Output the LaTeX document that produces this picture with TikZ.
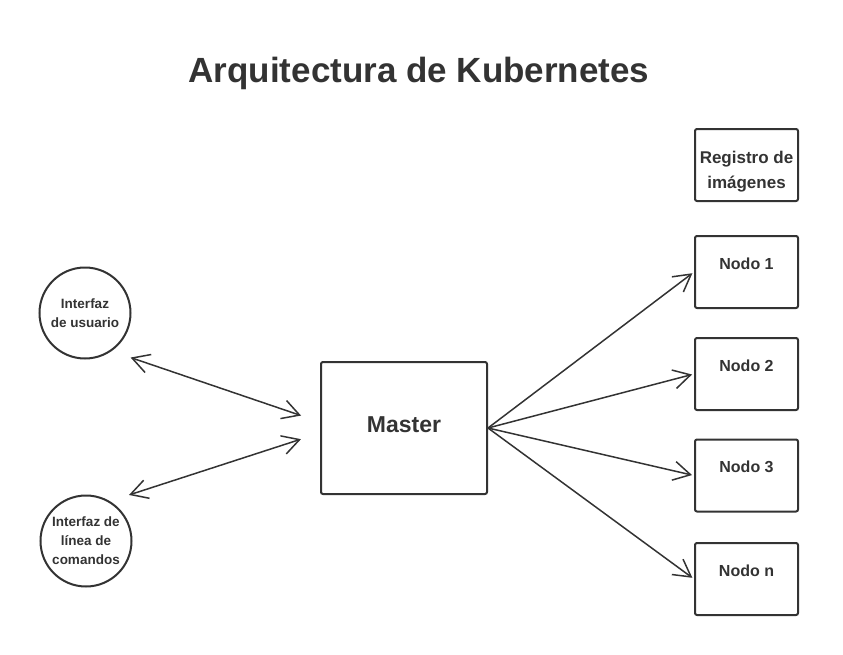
\documentclass[tikz,border=0pt]{standalone}
\usepackage{fontspec}
\setmainfont{Liberation Sans}
\usetikzlibrary{arrows.meta}
\definecolor{ink}{HTML}{333333}
\tikzset{
	box/.style={draw=ink, line width=2pt, rounded corners=2pt, inner sep=0pt,
		minimum width=103pt, minimum height=72pt, text=ink, align=center,
		font=\fontsize{16}{25}\selectfont\bfseries},
	workerbox/.style={box, text height=10pt, text depth=16pt},
	bubble/.style={draw=ink, line width=2pt, circle, inner sep=0pt,
		minimum size=91pt, text=ink, align=center,
		font=\fontsize{13.5}{19}\selectfont\bfseries},
	link/.style={draw=ink, line width=1.5pt,
		-{Straight Barb[length=17pt,width=19pt,line width=1.5pt]}},
	twoway/.style={link,
		{Straight Barb[length=17pt,width=19pt,line width=1.5pt]}-{Straight Barb[length=17pt,width=19pt,line width=1.5pt]},
		shorten <=20pt, shorten >=20pt}
}
\begin{document}
\begin{tikzpicture}[x=1pt,y=-1pt]
	\useasboundingbox (0,0) rectangle (843,654);

	\node[text=ink, font=\fontsize{35}{40}\selectfont\bfseries] (title) at (419,73) {Arquitectura de Kubernetes};

	% clients
	\node[bubble] (ui) at (85,313) {Interfaz\\de usuario};
	\node[bubble] (cli) at (86,541) {Interfaz de\\línea de\\comandos};

	% control plane
	\node[box, minimum width=166pt, minimum height=132pt, text height=18pt, text depth=10pt,
		font=\fontsize{23}{26}\selectfont\bfseries] (master) at (404,428) {Master};

	% registry and workers
	\node[box, label={[align=center, text=ink, yshift=-7pt,
		font=\fontsize{17}{25}\selectfont\bfseries]center:Registro de\\imágenes}]
		(registry) at (746.5,165) {};
	\node[workerbox] (node1) at (746.5,272) {Nodo 1};
	\node[workerbox] (node2) at (746.5,374) {Nodo 2};
	\node[workerbox] (node3) at (746.5,475.5) {Nodo 3};
	\node[workerbox] (noden) at (746.5,579) {Nodo n};

	\draw[twoway] (ui.-55) -- ([yshift=6pt]master.west);
	\draw[twoway] (cli.59) -- ([yshift=-5pt]master.west);

	\foreach \w in {node1,node2,node3,noden}
		\draw[link, shorten >=2pt] (master.east) -- (\w.west);
\end{tikzpicture}
\end{document}
